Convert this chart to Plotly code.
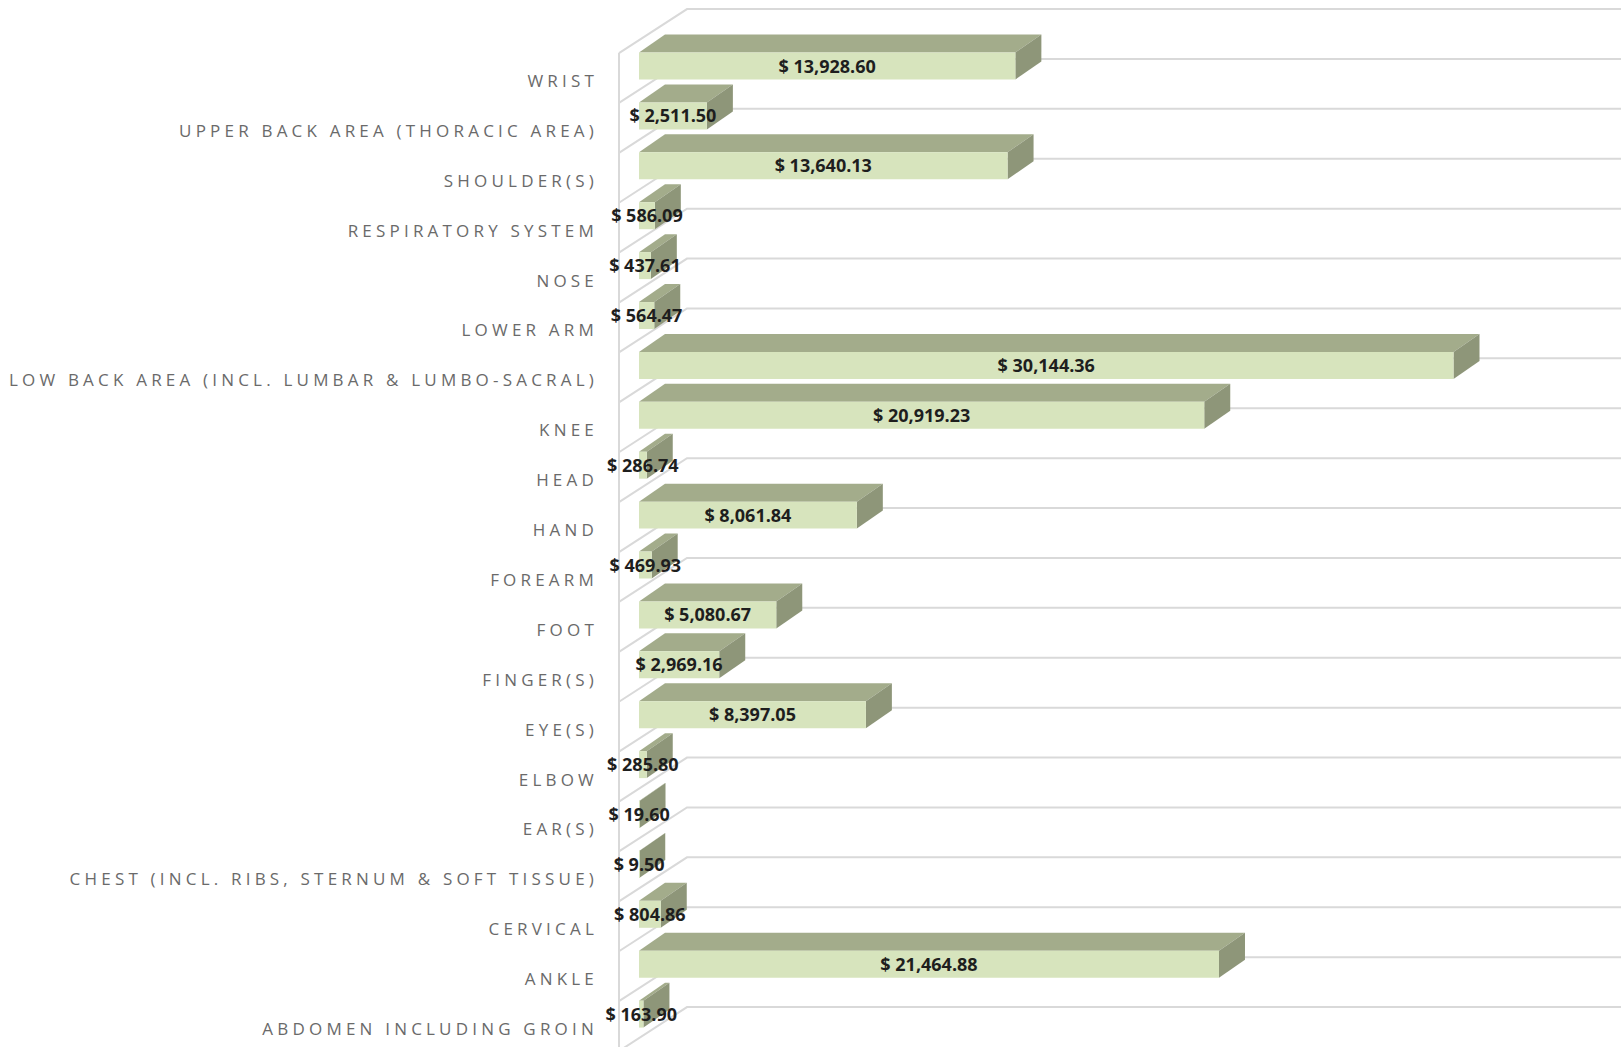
import plotly.graph_objects as go

# ---------------- data ----------------
categories = [
    "WRIST",
    "UPPER BACK AREA (THORACIC AREA)",
    "SHOULDER(S)",
    "RESPIRATORY SYSTEM",
    "NOSE",
    "LOWER ARM",
    "LOW BACK AREA (INCL. LUMBAR & LUMBO-SACRAL)",
    "KNEE",
    "HEAD",
    "HAND",
    "FOREARM",
    "FOOT",
    "FINGER(S)",
    "EYE(S)",
    "ELBOW",
    "EAR(S)",
    "CHEST (INCL. RIBS, STERNUM & SOFT TISSUE)",
    "CERVICAL",
    "ANKLE",
    "ABDOMEN INCLUDING GROIN",
]
values = [13928.60, 2511.50, 13640.13, 586.09, 437.61, 564.47, 30144.36,
          20919.23, 286.74, 8061.84, 469.93, 5080.67, 2969.16, 8397.05,
          285.80, 19.60, 9.50, 804.86, 21464.88, 163.90]
value_labels = [f"$ {v:,.2f}" for v in values]

# ---------------- style / layout constants ----------------
FIG_W, FIG_H = 1621, 1047
M_L = 605
PX_PER_UNIT = 0.02702      # horizontal scale (pixels per dollar)
ZERO_PX = 639              # pixel position of value 0
ROW_PX = 49.9              # pixel height of one category row
FIRST_ROW_PX = 78          # pixel centre of first row

FRONT = "#d7e4bd"
TOP = "#a3ac8b"
SIDE = "#8e9679"
GRID = "#d9d9d9"

x_min = -(ZERO_PX - M_L) / PX_PER_UNIT
x_max = (FIG_W - ZERO_PX) / PX_PER_UNIT
y_top = -FIRST_ROW_PX / ROW_PX
y_bottom = (FIG_H - FIRST_ROW_PX) / ROW_PX

def px_x(p):
    return p / PX_PER_UNIT

def px_y(p):
    return p / ROW_PX

BAR_OFFSET = -0.51
BAR_WIDTH = 0.54
DEPTH_X = px_x(26)
DEPTH_Y = px_y(18)
WALL_FRONT_X = px_x(-20)
WALL_BACK_X = px_x(48)
WALL_DY = px_y(44)
LABEL_DROP = px_y(2)

pos = list(range(len(categories)))

fig = go.Figure()

# front faces of the bars
fig.add_trace(go.Bar(
    x=values, y=pos, orientation="h",
    offset=BAR_OFFSET, width=BAR_WIDTH,
    marker=dict(color=FRONT, line=dict(width=0)),
    hoverinfo="skip", showlegend=False,
))

# value labels centred on the front faces
fig.add_trace(go.Scatter(
    x=[v / 2 for v in values],
    y=[p + BAR_OFFSET + BAR_WIDTH / 2 + LABEL_DROP for p in pos],
    mode="text", text=value_labels, textposition="middle center",
    textfont=dict(family="Open Sans", size=18, color="#1e1e1e", weight="bold"),
    hoverinfo="skip", showlegend=False,
))

shapes = []
# walls / gridlines
n = len(categories)
for i in range(n + 1):
    b = i - 0.5
    shapes.append(dict(
        type="path", xref="x", yref="y", layer="between",
        path=f"M {WALL_FRONT_X},{b} L {WALL_BACK_X},{b - WALL_DY} L {x_max * 2},{b - WALL_DY}",
        line=dict(color=GRID, width=2),
    ))
shapes.append(dict(
    type="line", xref="x", yref="y", layer="between",
    x0=WALL_FRONT_X, x1=WALL_FRONT_X, y0=-0.5, y1=n + 1,
    line=dict(color=GRID, width=2),
))

# 3-D top and side faces
for p, v in zip(pos, values):
    yt = p + BAR_OFFSET
    yb = p + BAR_OFFSET + BAR_WIDTH
    shapes.append(dict(
        type="path", xref="x", yref="y", layer="between",
        path=f"M 0,{yt} L {v},{yt} L {v + DEPTH_X},{yt - DEPTH_Y} L {DEPTH_X},{yt - DEPTH_Y} Z",
        fillcolor=TOP, line=dict(width=0),
    ))
    shapes.append(dict(
        type="path", xref="x", yref="y", layer="between",
        path=f"M {v},{yt} L {v},{yb} L {v + DEPTH_X},{yb - DEPTH_Y} L {v + DEPTH_X},{yt - DEPTH_Y} Z",
        fillcolor=SIDE, line=dict(width=0),
    ))

fig.update_layout(
    width=FIG_W, height=FIG_H,
    margin=dict(l=M_L, r=0, t=0, b=0, pad=0),
    paper_bgcolor="white", plot_bgcolor="white",
    shapes=shapes,
    xaxis=dict(range=[x_min, x_max], visible=False, fixedrange=True),
    yaxis=dict(
        range=[y_bottom, y_top], tickmode="array", tickvals=pos, ticktext=categories,
        showgrid=False, zeroline=False, showline=False, ticks="",
        tickfont=dict(family="Open Sans", size=17, color="#6a6a6a"),
        ticklabelshift=-3, ticklabelstandoff=6, fixedrange=True,
    ),
)

post = """
var gd = document.getElementById('{plot_id}');
function spacing(){
  gd.querySelectorAll('.ytick text').forEach(function(t){ t.style.letterSpacing = '4.2px'; });
}
spacing();
gd.on('plotly_afterplot', spacing);
"""

fig.write_html("out.html", post_script=post, config={"displayModeBar": False})
